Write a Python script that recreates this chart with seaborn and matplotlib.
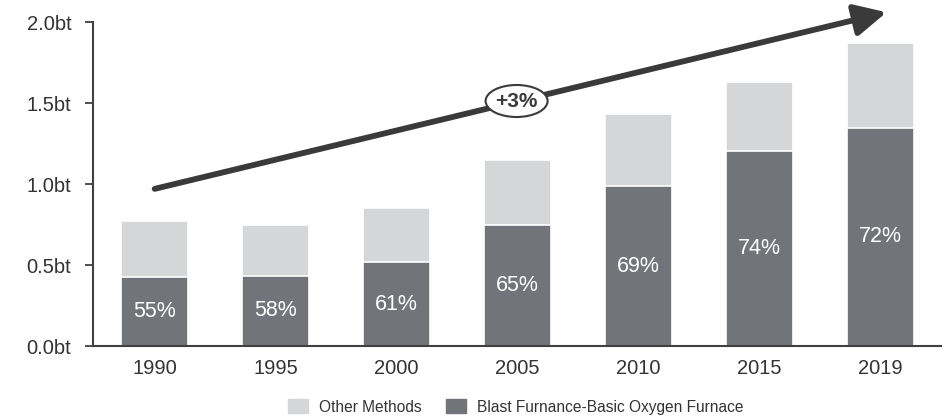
import matplotlib
matplotlib.use("Agg")
import matplotlib.pyplot as plt
from matplotlib.patches import Ellipse, FancyArrowPatch
import seaborn as sns
import pandas as pd

years = ["1990", "1995", "2000", "2005", "2010", "2015", "2019"]
total_bt = [0.77, 0.75, 0.85, 1.15, 1.43, 1.63, 1.87]
bf_bof_share = [55, 58, 61, 65, 69, 74, 72]
y_ticks = [0.0, 0.5, 1.0, 1.5, 2.0]
cagr_label = "+3%"

bf_bt = [t * s / 100 for t, s in zip(total_bt, bf_bof_share)]
df = pd.DataFrame({"year": years, "total": total_bt, "bf": bf_bt, "share": bf_bof_share})

sns.set_theme(style="white")
plt.rcParams["font.family"] = ["Liberation Sans", "DejaVu Sans"]

c_other = "#d5d6d8"
c_bf = "#717579"
c_text = "#333333"

fig = plt.figure(figsize=(9.49, 4.19), dpi=100)
ax = fig.add_axes([93 / 949, 1 - 346 / 419, (941 - 93) / 949, (346 - 22) / 419])

# total production drawn first, BF-BOF share stacked over it from zero
sns.barplot(data=df, x="year", y="total", color=c_other, width=0.55,
            edgecolor="white", linewidth=1.2, saturation=1, ax=ax)
sns.barplot(data=df, x="year", y="bf", color=c_bf, width=0.55,
            edgecolor="white", linewidth=1.2, saturation=1, ax=ax)

for i, (b, s) in enumerate(zip(bf_bt, bf_bof_share)):
    ax.text(i, b / 2, f"{s}%", ha="center", va="center", color="white", fontsize=15.5)

ax.set_xlim(-0.51, 6.5)
ax.set_ylim(0, 2.0)
ax.set_yticks(y_ticks)
ax.set_yticklabels([f"{v:.1f}bt" for v in y_ticks])
ax.set_xlabel("")
ax.set_ylabel("")

for side in ["top", "right"]:
    ax.spines[side].set_visible(False)
for side in ["left", "bottom"]:
    ax.spines[side].set_color("#404040")
    ax.spines[side].set_linewidth(1.5)

ax.tick_params(axis="y", which="both", left=True, length=6, width=1.3, color="#404040",
               labelsize=14.5, labelcolor=c_text, pad=9.5)
ax.tick_params(axis="x", bottom=False, labelsize=14.5, labelcolor=c_text, pad=3.5)

# growth arrow across the bars
arrow = FancyArrowPatch((0.0, 0.97), (6.05, 2.06), arrowstyle="-|>,head_length=12,head_width=6",
                        mutation_scale=1.6, color="#3a3a3a", linewidth=4.2,
                        clip_on=False, shrinkA=0, shrinkB=0, zorder=5)
ax.add_patch(arrow)

# CAGR badge on the arrow
bx = (517 - 155) / 121
by = (346 - 101) / 162
x0, x1 = ax.get_xlim()
ell = Ellipse((bx, by), width=62 / 848 * (x1 - x0), height=32 / 324 * 2.0,
              facecolor="white", edgecolor="#3a3a3a", linewidth=1.5, zorder=6, clip_on=False)
ax.add_patch(ell)
ax.text(bx, by, cagr_label, ha="center", va="center", fontsize=15, fontweight="bold",
        color="#3a3a3a", zorder=7)

handles = [plt.Rectangle((0, 0), 1, 1, color=c_other), plt.Rectangle((0, 0), 1, 1, color=c_bf)]
fig.legend(handles, ["Other Methods", "Blast Furnance-Basic Oxygen Furnace"],
           loc="center", bbox_to_anchor=(516 / 949, 1 - 407 / 419), ncol=2, frameon=False,
           fontsize=11.2, labelcolor=c_text, handlelength=1.25, handleheight=0.95,
           columnspacing=1.55, handletextpad=0.75, borderpad=0.2)

fig.savefig("out.png", dpi=100)
